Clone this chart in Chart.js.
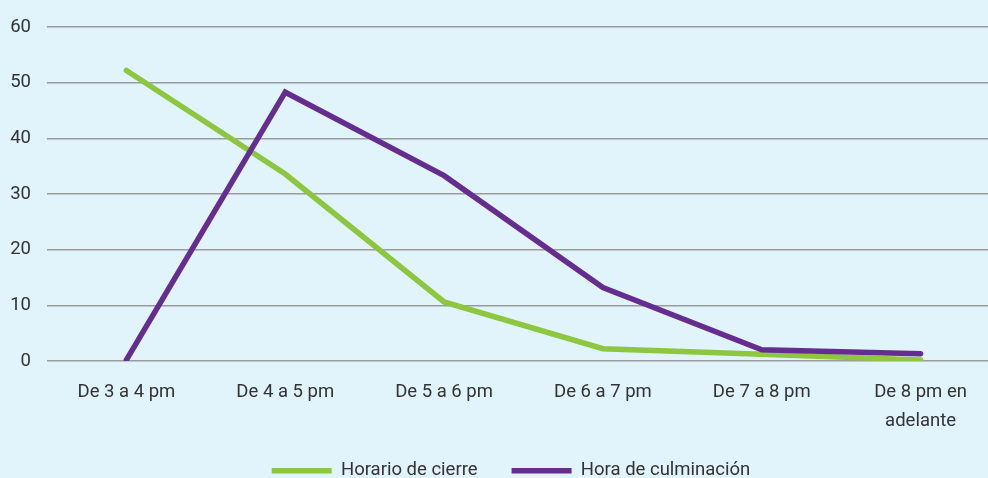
<!DOCTYPE html>
<html>
<head>
<meta charset="utf-8">
<script src="https://cdn.jsdelivr.net/npm/chart.js@4"></script>
<style>
  html, body { margin: 0; padding: 0; background: #e1f3fb; overflow: hidden; width: 988px; height: 478px; }
  #wrap { position: absolute; left: 0; top: 0; width: 1000px; height: 490px; }
</style>
</head>
<body>
<div id="wrap"><canvas id="c"></canvas></div>
<script>
const categories = ["De 3 a 4 pm", "De 4 a 5 pm", "De 5 a 6 pm", "De 6 a 7 pm", "De 7 a 8 pm", ["De 8 pm en", "adelante"]];
const horarioCierre = [52.2, 33.6, 10.6, 2.2, 1.2, 0.2];
const horaCulminacion = [0.2, 48.3, 33.3, 13.2, 2.0, 1.3];
const yMin = 0, yMax = 60, yStep = 10;

const GREEN = '#8dc63f';
const PURPLE = '#662d91';
const TEXT = '#333333';

Chart.defaults.font.family = 'Roboto, "Noto Sans", sans-serif';
Chart.defaults.font.size = 18.5;
Chart.defaults.color = TEXT;

const legendShift = {
  id: 'legendShift',
  afterLayout(chart) {
    if (chart.legend) { chart.legend.left += 6; chart.legend.right += 6; }
  }
};

new Chart(document.getElementById('c'), {
  type: 'line',
  data: {
    labels: categories,
    datasets: [
      {
        label: 'Horario de cierre',
        data: horarioCierre,
        borderColor: GREEN,
        backgroundColor: GREEN,
        borderWidth: 5.5,
        borderCapStyle: 'round',
        pointRadius: 0,
        tension: 0,
        order: 1
      },
      {
        label: 'Hora de culminación',
        data: horaCulminacion,
        borderColor: PURPLE,
        backgroundColor: PURPLE,
        borderWidth: 5.5,
        borderCapStyle: 'round',
        pointRadius: 0,
        tension: 0,
        order: 0
      }
    ]
  },
  plugins: [legendShift],
  options: {
    responsive: true,
    maintainAspectRatio: false,
    animation: false,
    layout: { padding: { top: 26, left: 10, right: 0, bottom: 0 } },
    plugins: {
      tooltip: { enabled: false },
      legend: {
        position: 'bottom',
        labels: {
          usePointStyle: true,
          pointStyle: 'line',
          pointStyleWidth: 60,
          padding: 34,
          color: TEXT,
          font: { size: 18.5 },
          sort: (a, b) => a.datasetIndex - b.datasetIndex
        }
      }
    },
    scales: {
      x: {
        offset: true,
        afterFit: (s) => { s.height = 66.5; },
        grid: { display: false, drawTicks: false },
        border: { display: false },
        ticks: { padding: 17, font: { size: 18.5, lineHeight: 1.56 }, maxRotation: 0, autoSkip: false }
      },
      y: {
        min: yMin,
        max: yMax,
        afterFit: (s) => { s.width = 37; },
        grid: { color: '#9b9b9b', lineWidth: 1.5, drawTicks: false },
        border: { display: false },
        ticks: { stepSize: yStep, padding: 16, font: { size: 18.5 } }
      }
    }
  }
});
</script>
</body>
</html>
